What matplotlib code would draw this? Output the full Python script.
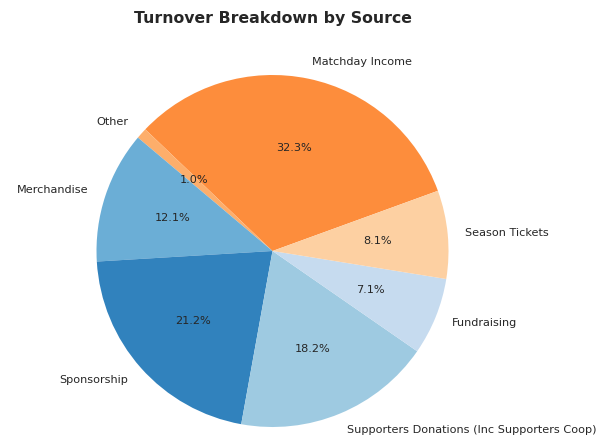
import matplotlib
matplotlib.use("Agg")
import matplotlib.pyplot as plt

# turnover shares (percent), in drawing order counter-clockwise
sources = ["Matchday Income", "Other", "Merchandise", "Sponsorship",
           "Supporters Donations (Inc Supporters Coop)", "Fundraising",
           "Season Tickets"]
shares = [32.3, 1.0, 12.1, 21.2, 18.2, 7.1, 8.1]
colours = ["#fd8d3c", "#fdae6b", "#6baed6", "#3182bd",
           "#9ecae1", "#c6dbef", "#fdd0a2"]

W, H = 602, 446
fig = plt.figure(figsize=(W / 100, H / 100), dpi=100)

# pie radius ~176 px, centre at (272.5, 251) px from top-left
r_px = 176
lim = 1.25
side = 2 * lim * r_px
cx, cy = 272.5, H - 251
ax = fig.add_axes([(cx - side / 2) / W, (cy - side / 2) / H, side / W, side / H])

wedges, texts, autotexts = ax.pie(
    shares, labels=sources, colors=colours, autopct="%1.1f%%",
    startangle=20, labeldistance=1.1, pctdistance=0.6,
    textprops={"fontsize": 8.1, "color": "#262626"})
ax.set_xlim(-lim, lim)
ax.set_ylim(-lim, lim)
ax.set_aspect("equal")
ax.axis("off")

fig.text(cx / W, 1 - 18 / H, "Turnover Breakdown by Source",
         ha="center", va="center", fontsize=11.3, fontweight="bold",
         color="#262626")

fig.savefig("out.png", dpi=100)
